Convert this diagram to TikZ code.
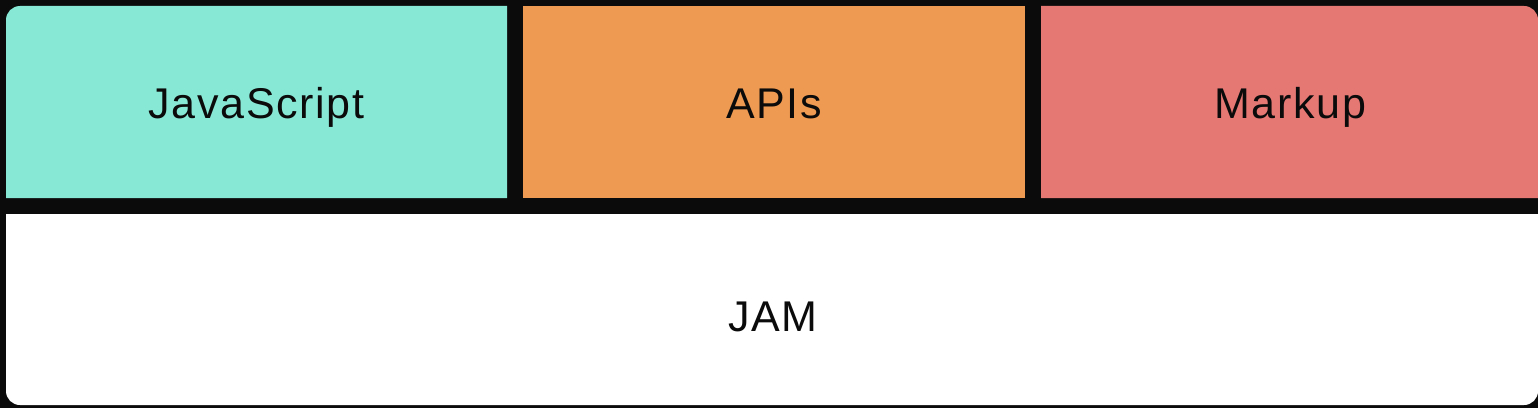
\documentclass[tikz,border=0pt]{standalone}
\usepackage{fontspec}
\setmainfont{Liberation Sans}[LetterSpace=4]
\definecolor{cbg}{HTML}{0B0B0B}
\definecolor{cteal}{HTML}{88E8D6}
\definecolor{corange}{HTML}{EF9A52}
\definecolor{cred}{HTML}{E67874}
\definecolor{ctext}{HTML}{0B0B0B}
\tikzset{
  lbl/.style={text=ctext, font=\fontsize{43}{50}\selectfont, inner sep=0pt, anchor=base},
}
\begin{document}
\begin{tikzpicture}[x=1pt,y=1pt]
\useasboundingbox (0,0) rectangle (1538,408);
\fill[cbg] (0,0) rectangle (1538,408);
% top row
\fill[cteal] (507,210) -- (6,210) -- (6,388) arc[start angle=180,end angle=90,radius=14] -- (507,402) -- cycle;
\fill[corange] (523,210) rectangle (1025,402);
\fill[cred] (1041,210) -- (1041,402) -- (1524,402) arc[start angle=90,end angle=0,radius=14] -- (1538,210) -- cycle;
% bottom
\fill[white] (6,194) -- (1538,194) -- (1538,17) arc[start angle=0,end angle=-90,radius=14] -- (20,3) arc[start angle=270,end angle=180,radius=14] -- cycle;
% labels
\node[lbl] (js) at (256.5,290) {JavaScript};
\node[lbl] (api) at (774,290) {APIs};
\node[lbl] (mk) at (1290,290) {Markup};
\node[lbl] (jam) at (773,77) {JAM};
\end{tikzpicture}
\end{document}
